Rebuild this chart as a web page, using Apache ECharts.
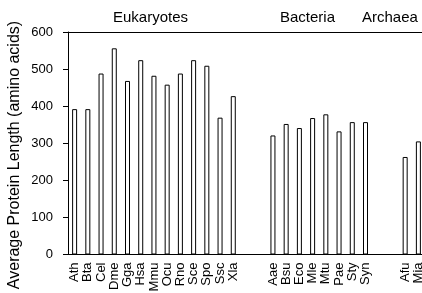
<!DOCTYPE html>
<html>
<head>
<meta charset="utf-8">
<script src="https://cdn.jsdelivr.net/npm/echarts@6/dist/echarts.min.js"></script>
<style>
html,body{margin:0;padding:0;background:#fff;}
#c{width:422px;height:293px;}
</style>
</head>
<body>
<div id="c"></div>
<script>
// Categories (empty strings are gaps between groups)
var categories = ['Ath','Bta','Cel','Dme','Gga','Hsa','Mmu','Ocu','Rno','Sce','Spo','Ssc','Xla',
                  '','',
                  'Aae','Bsu','Eco','Mle','Mtu','Pae','Sty','Syn',
                  '','',
                  'Afu','Mia'];
var eukaryotes = [392, 392, 488, 556, 468, 524, 482, 458, 488, 524, 509, 369, 427];
var bacteria = [321, 352, 341, 368, 378, 332, 357, 357];
var archaea = [263, 305];
var yTicks = [0, 100, 200, 300, 400, 500, 600];
var groupLabels = ['Eukaryotes', 'Bacteria', 'Archaea'];
var yTitle = 'Average Protein Length (amino acids)';

var values = [].concat(eukaryotes, ['-','-'], bacteria, ['-','-'], archaea);

var font = '"Liberation Sans", Arial, sans-serif';
var chart = echarts.init(document.getElementById('c'), null, {renderer: 'canvas'});
chart.setOption({
  animation: false,
  backgroundColor: '#fff',
  grid: {left: 68, top: 32, width: 357, bottom: 38.5, containLabel: false, outerBoundsMode: 'none'},
  xAxis: [{
    type: 'category',
    data: categories,
    boundaryGap: true,
    axisLine: {show: true, lineStyle: {color: '#000', width: 1}},
    axisTick: {show: false},
    axisLabel: {rotate: 90, interval: 0, margin: 8, color: '#000', fontSize: 13, fontFamily: font}
  }, {
    type: 'category',
    data: categories,
    position: 'top',
    axisLine: {show: true, lineStyle: {color: '#000', width: 1}},
    axisTick: {show: false},
    axisLabel: {show: false}
  }],
  yAxis: {
    type: 'value',
    min: yTicks[0],
    max: yTicks[yTicks.length - 1],
    interval: 100,
    axisLine: {show: true, lineStyle: {color: '#000', width: 1}},
    axisTick: {show: true, inside: false, length: 5, lineStyle: {color: '#000'}},
    axisLabel: {color: '#000', fontSize: 13, fontFamily: font, margin: 15},
    splitLine: {show: false}
  },
  series: [{
    type: 'bar',
    data: values,
    barWidth: 5,
    itemStyle: {color: '#fff', borderColor: '#000', borderWidth: 1}
  }],
  graphic: [
    {type: 'text', left: 113, top: 10, style: {text: groupLabels[0], fill: '#000', font: '15px ' + font}},
    {type: 'text', left: 280, top: 10, style: {text: groupLabels[1], fill: '#000', font: '15px ' + font}},
    {type: 'text', left: 362, top: 10, style: {text: groupLabels[2], fill: '#000', font: '15px ' + font}},
    {type: 'text', x: 15, y: 155, rotation: Math.PI / 2,
     style: {text: yTitle, fill: '#000', font: '16px ' + font, textAlign: 'center', textVerticalAlign: 'middle'}}
  ]
});
</script>
</body>
</html>
